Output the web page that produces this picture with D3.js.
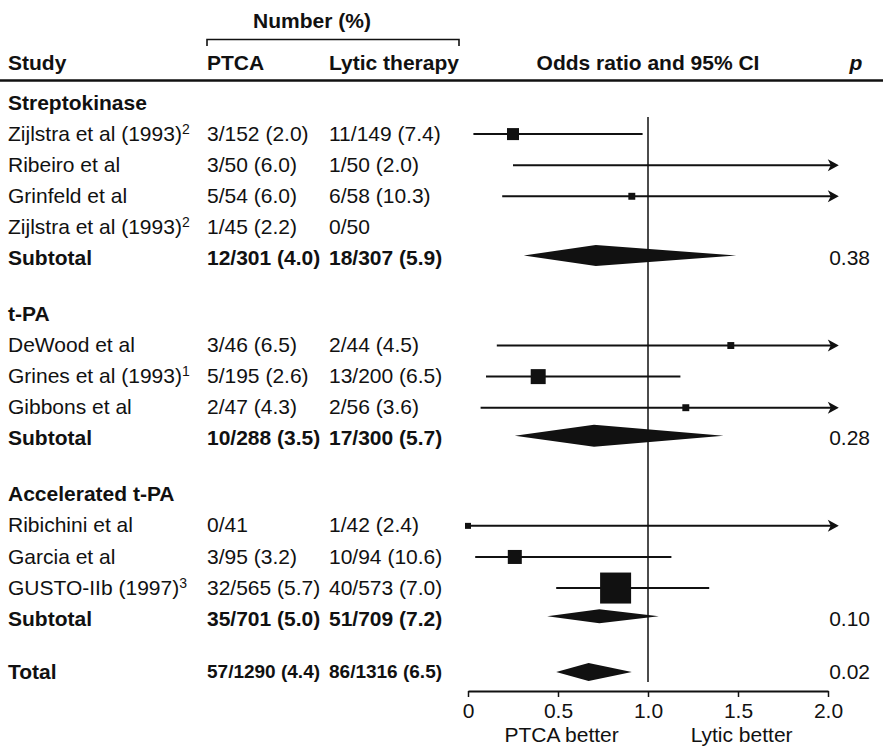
<!DOCTYPE html>
<html><head><meta charset="utf-8">
<script src="https://cdn.jsdelivr.net/npm/d3@7"></script>
<style>
html,body{margin:0;padding:0;background:#fff;}
svg text{font-family:"Liberation Sans",Arial,Helvetica,sans-serif;fill:#111;}
</style></head>
<body><svg id="c" width="883" height="748"></svg>
<script>
// ---- data ----
const groupNames = ["Streptokinase", "t-PA", "Accelerated t-PA"];
const studyNames = ["Zijlstra et al (1993)", "Ribeiro et al", "Grinfeld et al", "Zijlstra et al (1993)",
  "DeWood et al", "Grines et al (1993)", "Gibbons et al",
  "Ribichini et al", "Garcia et al", "GUSTO-IIb (1997)"];
const studySup = ["2", "", "", "2", "", "1", "", "", "", "3"];
const studyGroup = [0, 0, 0, 0, 1, 1, 1, 2, 2, 2];
const studyPTCA = ["3/152 (2.0)", "3/50 (6.0)", "5/54 (6.0)", "1/45 (2.2)",
  "3/46 (6.5)", "5/195 (2.6)", "2/47 (4.3)",
  "0/41", "3/95 (3.2)", "32/565 (5.7)"];
const studyLytic = ["11/149 (7.4)", "1/50 (2.0)", "6/58 (10.3)", "0/50",
  "2/44 (4.5)", "13/200 (6.5)", "2/56 (3.6)",
  "1/42 (2.4)", "10/94 (10.6)", "40/573 (7.0)"];
const studyOR   = [0.25, null, 0.91, null, 1.46, 0.39, 1.21, 0.00, 0.26, 0.82];
const studyLow  = [0.03, 0.25, 0.19, null, 0.16, 0.10, 0.07, 0.00, 0.04, 0.49];
const studyHigh = [0.97, 4.0, 4.0, null, 4.0, 1.18, 4.0, 4.0, 1.13, 1.34];
const studyWeight = [3.6, 0, 1.2, 0, 1.2, 5.6, 1.2, 0.9, 4.9, 24];
const subPTCA  = ["12/301 (4.0)", "10/288 (3.5)", "35/701 (5.0)"];
const subLytic = ["18/307 (5.9)", "17/300 (5.7)", "51/709 (7.2)"];
const subOR   = [0.71, 0.70, 0.73];
const subLow  = [0.31, 0.26, 0.44];
const subHigh = [1.49, 1.42, 1.06];
const subP    = ["0.38", "0.28", "0.10"];
const totalPTCA = "57/1290 (4.4)", totalLytic = "86/1316 (6.5)";
const totalOR = 0.67, totalLow = 0.49, totalHigh = 0.91, totalP = "0.02";
const tickValues = [0, 0.5, 1.0, 1.5, 2.0];
const tickLabels = ["0", "0.5", "1.0", "1.5", "2.0"];

// ---- style / layout ----
const diamondHalf = [10.5, 11, 7, 9];
const FS = 21;
const colStudy = 8, colPTCA = 207, colLytic = 329, colP = 870;

// build rows
const rows = [];
let slot = 0;
groupNames.forEach((g, gi) => {
  if (gi > 0) slot += 0.8;
  rows.push({type: "header", slot: slot, label: g}); slot++;
  studyNames.forEach((s, i) => {
    if (studyGroup[i] !== gi) return;
    rows.push({type: "study", slot: slot, label: s, sup: studySup[i], ptca: studyPTCA[i], lytic: studyLytic[i],
      or: studyOR[i], lo: studyLow[i], hi: studyHigh[i], w: studyWeight[i]});
    slot++;
  });
  rows.push({type: "sub", slot: slot, label: "Subtotal", ptca: subPTCA[gi], lytic: subLytic[gi],
    or: subOR[gi], lo: subLow[gi], hi: subHigh[gi], p: subP[gi], h: diamondHalf[gi]});
  slot++;
});
slot += 0.7;
rows.push({type: "sub", slot: slot, label: "Total", ptca: totalPTCA, lytic: totalLytic,
  or: totalOR, lo: totalLow, hi: totalHigh, p: totalP, h: diamondHalf[3], total: true});

const svg = d3.select("#c");
const x = d3.scaleLinear().domain([0, 2]).range([468, 828]);
const y = d3.scaleLinear().domain([0, slot]).range([102, 671]);
const size = d3.scaleSqrt().domain([0, 24]).range([0, 31]);
const xMax = 2.06;

// headers
svg.append("text").attr("x", 312).attr("y", 28).attr("text-anchor", "middle")
  .attr("font-size", FS).attr("font-weight", "bold").text("Number (%)");
svg.append("path").attr("d", `M${colPTCA},46V39.5H459V46`).attr("fill", "none").attr("stroke", "#111").attr("stroke-width", 1.6);
const hdr = [["Study", colStudy, "start"], ["PTCA", colPTCA, "start"], ["Lytic therapy", colLytic, "start"],
  ["Odds ratio and 95% CI", x(1), "middle"]];
hdr.forEach(h => svg.append("text").attr("x", h[1]).attr("y", 70).attr("text-anchor", h[2])
  .attr("font-size", FS).attr("font-weight", "bold").text(h[0]));
svg.append("text").attr("x", 856).attr("y", 70).attr("text-anchor", "middle")
  .attr("font-size", FS).attr("font-weight", "bold").attr("font-style", "italic").text("p");
svg.append("line").attr("x1", 0).attr("x2", 883).attr("y1", 80.5).attr("y2", 80.5)
  .attr("stroke", "#111").attr("stroke-width", 2.5);

// reference line
svg.append("line").attr("x1", x(1)).attr("x2", x(1)).attr("y1", 117).attr("y2", 682)
  .attr("stroke", "#111").attr("stroke-width", 1.5);

// rows text
const g = svg.append("g");
rows.forEach(r => {
  const yy = y(r.slot);
  const bold = r.type !== "study";
  const t = g.append("text").attr("x", colStudy).attr("y", yy).attr("dy", "0.36em")
    .attr("font-size", FS).attr("font-weight", bold ? "bold" : "normal").text(r.label);
  if (r.sup) t.append("tspan").attr("dy", "-0.5em").attr("font-size", 14).text(r.sup);
  if (r.ptca) {
    const fs = r.total ? 19 : FS;
    g.append("text").attr("x", colPTCA).attr("y", yy).attr("dy", "0.36em").attr("font-size", fs)
      .attr("font-weight", bold ? "bold" : "normal").text(r.ptca);
    g.append("text").attr("x", colLytic).attr("y", yy).attr("dy", "0.36em").attr("font-size", fs)
      .attr("font-weight", bold ? "bold" : "normal").text(r.lytic);
  }
  if (r.p) g.append("text").attr("x", colP).attr("y", yy).attr("dy", "0.36em").attr("font-size", FS)
    .attr("text-anchor", "end").text(r.p);
});

// study marks
const marks = svg.append("g");
rows.filter(r => r.type === "study" && r.lo != null).forEach(r => {
  const yy = y(r.slot) + 1;
  const over = r.hi > 2;
  const x2 = over ? x(xMax) : x(r.hi);
  marks.append("line").attr("x1", x(r.lo)).attr("x2", over ? x2 - 4 : x2).attr("y1", yy).attr("y2", yy)
    .attr("stroke", "#111").attr("stroke-width", 2);
  if (over) {
    marks.append("path").attr("d", `M${x2},${yy}L${x2 - 11},${yy - 6}L${x2 - 8},${yy}L${x2 - 11},${yy + 6}Z`)
      .attr("fill", "#111");
  }
  if (r.or != null && r.w > 0) {
    const s = size(r.w);
    marks.append("rect").attr("x", x(r.or) - s / 2).attr("y", yy - s / 2).attr("width", s).attr("height", s)
      .attr("fill", "#111");
  }
});

// diamonds
rows.filter(r => r.type === "sub").forEach(r => {
  const yy = y(r.slot) - (r.total ? -1 : 2);
  marks.append("path").attr("d", `M${x(r.lo)},${yy}L${x(r.or)},${yy - r.h}L${x(r.hi)},${yy}L${x(r.or)},${yy + r.h}Z`)
    .attr("fill", "#111");
});

// axis
const axis = d3.axisBottom(x).tickValues(tickValues).tickFormat((d, i) => tickLabels[i])
  .tickSizeInner(6).tickSizeOuter(0).tickPadding(6);
const ax = svg.append("g").attr("transform", "translate(0,691)").call(axis);
ax.select(".domain").attr("stroke", "#111").attr("stroke-width", 2);
ax.selectAll(".tick line").attr("stroke", "#111").attr("stroke-width", 1.5);
ax.selectAll(".tick text").attr("font-size", FS).attr("fill", "#111")
  .style("font-family", '"Liberation Sans",Arial,sans-serif');
svg.append("text").attr("x", x(0.52)).attr("y", 742).attr("text-anchor", "middle").attr("font-size", FS).text("PTCA better");
svg.append("text").attr("x", x(1.52)).attr("y", 742).attr("text-anchor", "middle").attr("font-size", FS).text("Lytic better");
</script></body></html>
